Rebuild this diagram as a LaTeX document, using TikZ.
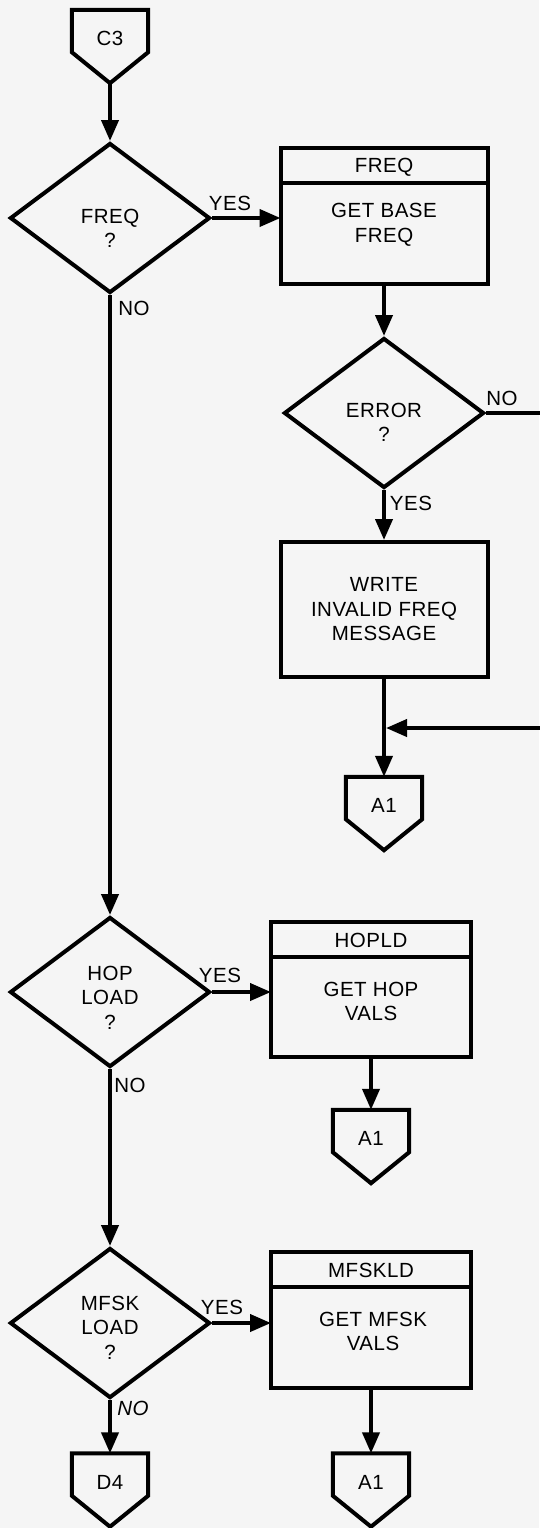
\documentclass[tikz,border=0pt]{standalone}
\usepackage{fontspec}
\setmainfont{Liberation Sans}[LetterSpace=2.5]
\usetikzlibrary{shapes.geometric,arrows.meta}

\begin{document}
\begin{tikzpicture}[x=1pt,y=-1pt,
  every node/.style={font=\fontsize{20.5}{24.5}\selectfont},
  ln/.style={line width=4pt},
  arr/.style={line width=4pt,-{Triangle[length=21pt,width=17pt]}},
  decision/.style={diamond,draw,line width=4pt,inner sep=0pt,
    minimum width=200pt,minimum height=150pt},
  txt/.style={inner sep=0pt,align=center},
  lab/.style={inner sep=0pt,text height=15pt,text depth=0pt},
  head/.style={rectangle,draw,line width=4pt,inner sep=0pt,outer sep=0pt,
    text height=15pt,text depth=0pt,minimum height=35pt},
  body/.style={rectangle,draw,line width=4pt,inner sep=0pt,outer sep=0pt,
    anchor=north,minimum height=101pt},
  offpage/.style={rectangle,inner sep=0pt,minimum width=76pt,
    minimum height=73pt,text height=15pt,text depth=17pt}
]
\useasboundingbox[fill=black!4] (0,0) rectangle (539,1528);

% off-page connectors
\node[offpage] (c3)  at (110,46.5)  {C3};
\node[offpage] (a1a) at (384,813.5) {A1};
\node[offpage] (a1b) at (371,1146.5) {A1};
\node[offpage] (a1c) at (371,1490)  {A1};
\node[offpage] (d4)  at (110,1490)  {D4};
\foreach \n in {c3,a1a,a1b,a1c,d4}
  \draw[ln] (\n.north west) -- (\n.north east) -- ([yshift=31pt]\n.south east)
    -- (\n.south) -- ([yshift=31pt]\n.south west) -- cycle;

% decisions
\node[decision] (freq) at (110,218) {};
\node[txt] (freqT) at (110,228.5) {FREQ\\?};
\node[decision] (err) at (384,413) {};
\node[txt] (errT) at (384,422.5) {ERROR\\?};
\node[decision] (hop) at (110,992) {};
\node[txt] (hopT) at (110,997.5) {HOP\\LOAD\\?};
\node[decision] (mfsk) at (110,1323) {};
\node[txt] (mfskT) at (110,1327.5) {MFSK\\LOAD\\?};

% processes
\node[head,minimum width=207pt] (fhead) at (384,165) {FREQ};
\node[body,minimum width=207pt] (fbody) at (fhead.south) {};
\node[txt] (fbodyT) at (384,225) {GET BASE\\FREQ};

\node[rectangle,draw,line width=4pt,inner sep=0pt,align=center,
  minimum width=207pt,minimum height=135pt] (wbox) at (384,609.5)
  {WRITE\\INVALID FREQ\\MESSAGE};

\node[head,minimum width=200pt] (hhead) at (371,939.5) {HOPLD};
\node[body,minimum width=200pt,minimum height=100pt] (hbody) at (hhead.south) {};
\node[txt] (hbodyT) at (371,1001.5) {GET HOP\\VALS};

\node[head,minimum width=200pt] (mhead) at (371,1269.5) {MFSKLD};
\node[body,minimum width=200pt] (mbody) at (mhead.south) {};
\node[txt] (mbodyT) at (373,1331.5) {GET MFSK\\VALS};

% flow
\coordinate (loop) at (548,413);
\coordinate (jn) at (384,728);

\draw[arr] (c3.south) -- (freq.north);
\draw[arr] (freq.east) -- (freq.east -| fbody.west);
\draw[arr] (fbody.south) -- (err.north);
\draw[arr] (err.south) -- (wbox.north);
\draw[arr] (wbox.south) -- (a1a.north);
\draw[arr,shorten >=2pt] (err.east) -- (loop) |- (jn);
\draw[arr] (freq.south) -- (hop.north);
\draw[arr] (hop.east) -- (hop.east -| hbody.west);
\draw[arr] (hbody.south) -- (a1b.north);
\draw[arr] (hop.south) -- (mfsk.north);
\draw[arr] (mfsk.east) -- (mfsk.east -| mbody.west);
\draw[arr] (mbody.south) -- (a1c.north);
\draw[arr] (mfsk.south) -- (d4.north);

% branch labels
\node[lab] (y1) at (230,203) {YES};
\node[lab] (n1) at (134,308) {NO};
\node[lab] (n2) at (502,398) {NO};
\node[lab] (y2) at (411,503) {YES};
\node[lab] (y3) at (220,975) {YES};
\node[lab] (n3) at (130,1085) {NO};
\node[lab] (y4) at (222,1307) {YES};
\node[lab,font=\fontsize{20.5}{24.5}\selectfont\itshape] (n4) at (133,1408) {NO};
\end{tikzpicture}
\end{document}
